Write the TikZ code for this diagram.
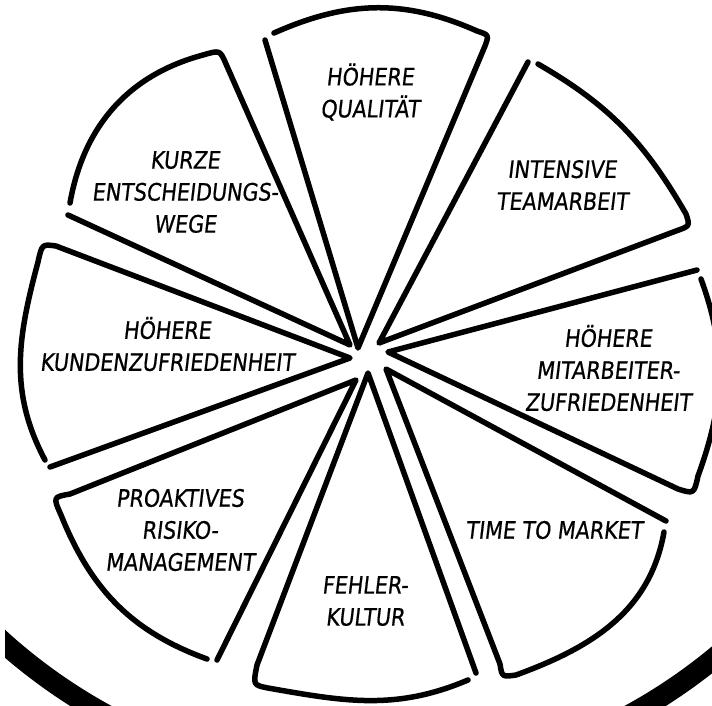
\documentclass[tikz,border=0pt]{standalone}
\usepackage{fontspec}
\newfontfamily\hand{DejaVu Sans}[FakeStretch=0.86,FakeSlant=0.12,FakeBold=0.6]
\usetikzlibrary{calc}
\tikzset{
  slice/.style={line width=5.5pt, line cap=round, line join=round},
  lbl/.style={font=\hand\fontsize{24}{32}\selectfont, align=center, inner sep=0pt},
  rind/.style={line width=21pt}
}
\begin{document}
\begin{tikzpicture}[x=1pt,y=1pt]
\useasboundingbox (0,0) rectangle (712,-705);
\clip (0,0) rectangle (712,-705);
% apex coordinates
\coordinate (p1) at (358,-348);
\coordinate (p2) at (379,-343);
\coordinate (p3) at (388,-352);
\coordinate (p4) at (386,-369);
\coordinate (p5) at (368,-373);
\coordinate (p6) at (356,-380);
\coordinate (p7) at (350,-358);
\coordinate (p8) at (350,-345);
% slices
\draw[slice] (265,-40) -- (p1) -- (485,-46) .. controls (489,-35) .. (477,-31) to[out=156,in=24] (274,-33);
\draw[slice] (528,-62) -- (p2) -- (676,-231) .. controls (690,-226) .. (686,-214) to[out=120,in=-30] (538,-64);
\draw[slice] (697,-270) -- (p3) -- (678,-489) .. controls (694,-494) .. (698,-476) to[out=70,in=-70] (701,-279);
\draw[slice] (666,-521) -- (p4) -- (500,-664) .. controls (502,-677) .. (516,-675) to[out=20,in=-100] (664,-532);
\draw[slice] (476,-673) -- (p5) -- (257,-665) .. controls (253,-685) .. (268,-688) to[out=-10,in=-157] (468,-680);
\draw[slice] (217,-660) -- (p6) -- (70,-494) .. controls (53,-497) .. (61,-515) to[out=-68,in=160] (207,-659);
\draw[slice] (50,-467) -- (p7) -- (56,-246) .. controls (42,-244) .. (38,-262) to[out=-105,in=118] (45,-460);
\draw[slice] (68,-215) -- (p8) -- (226,-64) .. controls (220,-50) .. (203,-55) to[out=195,in=80] (70,-203);
% rind
\begin{scope}
\clip (5,0) rectangle (712,-705);
\draw[rind] (368,-234) circle (547.5);
\end{scope}
% labels
\node[lbl] (t1) at (370,-92) {HÖHERE\\QUALITÄT};
\node[lbl] (t2) at (562,-185) {INTENSIVE\\TEAMARBEIT};
\node[lbl] (t3) at (608,-368) {HÖHERE\\MITARBEITER-\\ZUFRIEDENHEIT};
\node[lbl] (t4) at (554,-530) {TIME TO MARKET};
\node[lbl] (t5) at (365,-601) {FEHLER-\\KULTUR};
\node[lbl] (t6) at (180,-530) {PROAKTIVES\\RISIKO-\\MANAGEMENT};
\node[lbl] (t7) at (167,-344) {HÖHERE\\KUNDENZUFRIEDENHEIT};
\node[lbl] (t8) at (185,-192) {KURZE\\ENTSCHEIDUNGS-\\WEGE};
\end{tikzpicture}
\end{document}
